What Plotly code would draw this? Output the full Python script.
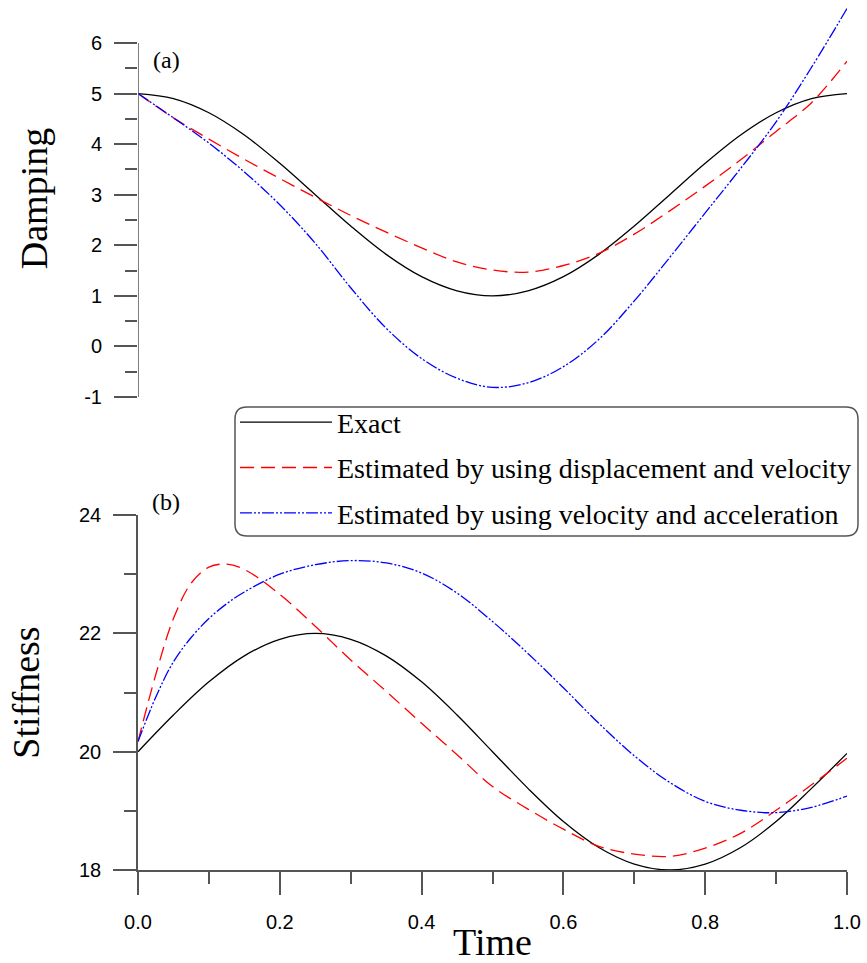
import plotly.graph_objects as go

# ---------------- data ----------------
time = [0.00, 0.05, 0.10, 0.15, 0.20, 0.25, 0.30, 0.35, 0.40, 0.45, 0.50,
        0.55, 0.60, 0.65, 0.70, 0.75, 0.80, 0.85, 0.90, 0.95, 1.00]

damping_exact = [5.00, 4.90, 4.62, 4.18, 3.62, 3.00, 2.38, 1.82, 1.38, 1.10, 1.00,
                 1.10, 1.38, 1.82, 2.38, 3.00, 3.62, 4.18, 4.62, 4.90, 5.00]
damping_disp_vel = [5.00, 4.52, 4.10, 3.70, 3.32, 2.95, 2.59, 2.26, 1.95, 1.67, 1.51,
                    1.47, 1.60, 1.84, 2.22, 2.68, 3.17, 3.69, 4.25, 4.82, 5.64]
damping_vel_acc = [5.00, 4.52, 4.02, 3.45, 2.80, 2.04, 1.16, 0.36, -0.24, -0.63, -0.81,
                   -0.72, -0.40, 0.14, 0.90, 1.76, 2.64, 3.52, 4.44, 5.52, 6.68]

stiffness_exact = [20.00, 20.62, 21.18, 21.62, 21.90, 22.00, 21.90, 21.62, 21.18, 20.62, 20.00,
                   19.38, 18.82, 18.38, 18.10, 18.00, 18.10, 18.38, 18.82, 19.38, 19.97]

time_fine = [0.000, 0.025, 0.050, 0.075, 0.100, 0.125, 0.150, 0.200, 0.250, 0.300, 0.350,
             0.400, 0.450, 0.500, 0.550, 0.600, 0.650, 0.700, 0.750, 0.800, 0.850,
             0.900, 0.950, 1.000]
stiffness_disp_vel = [20.17, 21.30, 22.25, 22.85, 23.12, 23.17, 23.08, 22.66, 22.12, 21.55, 21.02,
                      20.48, 19.95, 19.41, 19.03, 18.69, 18.40, 18.27, 18.23, 18.37, 18.62,
                      19.01, 19.44, 19.89]
stiffness_vel_acc = [20.17, 20.92, 21.52, 21.93, 22.25, 22.50, 22.70, 23.00, 23.16, 23.23, 23.19,
                     23.02, 22.68, 22.20, 21.66, 21.08, 20.48, 19.93, 19.48, 19.16, 19.01,
                     18.97, 19.06, 19.25]

series_names = ["Exact",
                "Estimated by using displacement and velocity",
                "Estimated by using velocity and acceleration"]
damping_ticks = [-1, 0, 1, 2, 3, 4, 5, 6]
damping_tick_text = ["-1", "0", "1", "2", "3", "4", "5", "6"]
damping_minor = [-0.5, 0.5, 1.5, 2.5, 3.5, 4.5, 5.5]
stiffness_ticks = [18, 20, 22, 24]
time_ticks = [0.0, 0.2, 0.4, 0.6, 0.8, 1.0]

# ---------------- styling ----------------
SERIF = "Liberation Serif"
SANS = "Liberation Sans"
AX = "#555555"
colors = ["#000000", "#ff0000", "#0000ff"]
dashes = ["solid", "14px,7px", "12px,2px,2px,2px,2px,2px"]

fig = go.Figure()

top = [damping_exact, damping_disp_vel, damping_vel_acc]
for i in range(3):
    fig.add_trace(go.Scatter(
        x=time, y=top[i], mode="lines", name=series_names[i],
        line=dict(color=colors[i], width=1.3, dash=dashes[i], shape="spline", smoothing=1.0),
        xaxis="x", yaxis="y", legendgroup="g%d" % i, showlegend=True))

bx = [time, time_fine, time_fine]
by = [stiffness_exact, stiffness_disp_vel, stiffness_vel_acc]
for i in range(3):
    fig.add_trace(go.Scatter(
        x=bx[i], y=by[i], mode="lines", name=series_names[i],
        line=dict(color=colors[i], width=1.3, dash=dashes[i], shape="spline", smoothing=1.0),
        xaxis="x2", yaxis="y2", legendgroup="g%d" % i, showlegend=False))

tickfont = dict(family=SANS, size=20, color="#000000")
titlefont = dict(family=SERIF, size=38, color="#000000")

fig.update_layout(
    width=867, height=963,
    paper_bgcolor="white", plot_bgcolor="white",
    margin=dict(l=138, r=20, t=0, b=93, autoexpand=False),
    showlegend=True,
    xaxis=dict(domain=[0, 1], range=[0, 1], visible=False, anchor="y",
               showgrid=False, zeroline=False),
    yaxis=dict(domain=[0.5437, 1.0], range=[-1, 6.85], anchor="x",
               tickmode="array", tickvals=damping_ticks, ticktext=damping_tick_text,
               ticks="outside", ticklen=23, tickwidth=1.5, tickcolor=AX,
               minor=dict(tickmode="array", tickvals=damping_minor, ticks="outside",
                          ticklen=12, tickwidth=1.5, tickcolor=AX, showgrid=False),
               showline=False, showgrid=False, zeroline=False,
               tickfont=tickfont, ticklabelstandoff=8,
               title=dict(text="Damping", font=titlefont, standoff=24)),
    xaxis2=dict(domain=[0, 1], range=[0, 1], anchor="y2",
                tickmode="array", tickvals=time_ticks, tickformat=".1f",
                ticks="outside", ticklen=23, tickwidth=1.5, tickcolor=AX,
                minor=dict(dtick=0.1, tick0=0, ticks="outside", ticklen=12,
                           tickwidth=1.5, tickcolor=AX, showgrid=False),
                showline=True, linecolor=AX, linewidth=1.5,
                showgrid=False, zeroline=False,
                tickfont=tickfont, ticklabelstandoff=10,
                title=dict(text="Time", font=titlefont, standoff=0)),
    yaxis2=dict(domain=[0, 0.4080], range=[18, 24], anchor="x2",
                tickmode="array", tickvals=stiffness_ticks,
                ticks="outside", ticklen=23, tickwidth=1.5, tickcolor=AX,
                minor=dict(dtick=1, tick0=18, ticks="outside", ticklen=12,
                           tickwidth=1.5, tickcolor=AX, showgrid=False),
                showline=True, linecolor=AX, linewidth=1.5,
                showgrid=False, zeroline=False,
                tickfont=tickfont, ticklabelstandoff=8,
                title=dict(text="Stiffness", font=titlefont, standoff=28)),
    legend=dict(x=0.1368, y=0.5432, xanchor="left", yanchor="top",
                bgcolor="rgba(0,0,0,0)", borderwidth=0,
                font=dict(family=SERIF, size=28, color="#000000"),
                itemwidth=92, traceorder="grouped", tracegroupgap=6),
)

# left axis line of the damping panel (from -1 to 6 only)
fig.add_shape(type="line", xref="x", yref="y", x0=0, x1=0, y0=-1, y1=6,
              line=dict(color=AX, width=1.5))

# rounded legend frame
x0, x1 = 0.1368, 1.0155
y0, y1 = 0.3839, 0.5322
rx, ry = 12 / 709, 12 / 870
path = (f"M{x0+rx},{y1} L{x1-rx},{y1} Q{x1},{y1} {x1},{y1-ry} "
        f"L{x1},{y0+ry} Q{x1},{y0} {x1-rx},{y0} L{x0+rx},{y0} "
        f"Q{x0},{y0} {x0},{y0+ry} L{x0},{y1-ry} Q{x0},{y1} {x0+rx},{y1} Z")
fig.add_shape(type="path", xref="paper", yref="paper", path=path,
              line=dict(color="#555555", width=1.5), fillcolor="rgba(0,0,0,0)")

fig.add_annotation(text="(a)", x=0.0395, y=0.9310, xref="paper", yref="paper",
                   xanchor="center", yanchor="middle",
                   showarrow=False, font=dict(family=SERIF, size=24, color="#000000"))
fig.add_annotation(text="(b)", x=0.0395, y=0.4230, xref="paper", yref="paper",
                   xanchor="center", yanchor="middle",
                   showarrow=False, font=dict(family=SERIF, size=24, color="#000000"))

fig.write_html("out.html",
               config={"displayModeBar": False},
               post_script="document.body.style.margin='0';document.body.style.overflow='hidden';")
